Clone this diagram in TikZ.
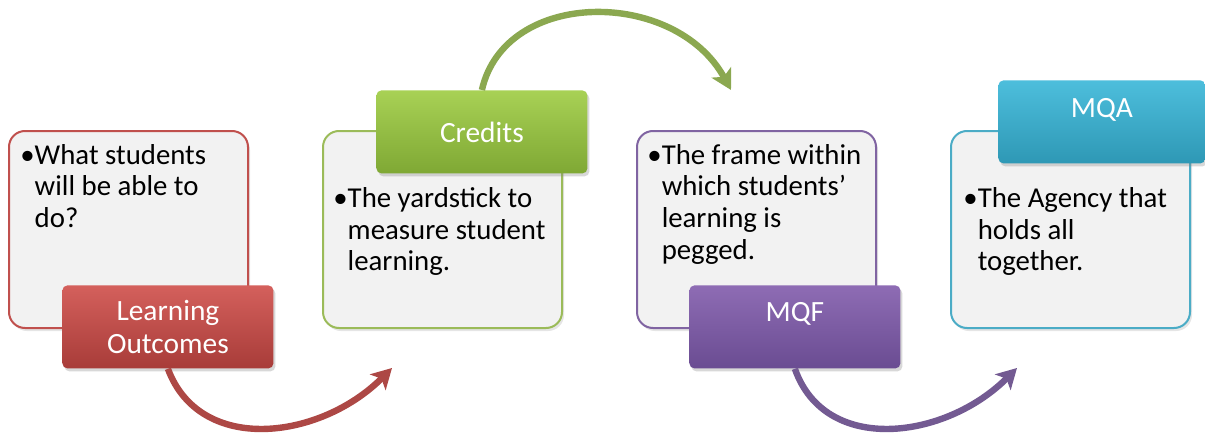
\documentclass[tikz,border=0pt]{standalone}
\usepackage{fontspec}
\setmainfont{Carlito}
\usetikzlibrary{arrows.meta,shadows}

\definecolor{boxgray}{HTML}{F2F2F2}
\definecolor{redline}{HTML}{C0504D}
\definecolor{redtop}{HTML}{D4605C}
\definecolor{redbot}{HTML}{A83C39}
\definecolor{greenline}{HTML}{9BBB59}
\definecolor{greentop}{HTML}{A8D155}
\definecolor{greenbot}{HTML}{7FA834}
\definecolor{purpleline}{HTML}{8064A2}
\definecolor{purpletop}{HTML}{8E6CB4}
\definecolor{purplebot}{HTML}{6A4C92}
\definecolor{tealline}{HTML}{4BACC6}
\definecolor{tealtop}{HTML}{4DBEDC}
\definecolor{tealbot}{HTML}{2E98B5}

\tikzset{
	box/.style={draw, line width=1pt, rounded corners=8pt, fill=boxgray, minimum width=119.5pt, minimum height=98.5pt, anchor=north west, inner sep=0pt, drop shadow={shadow xshift=1pt, shadow yshift=-1.5pt, opacity=0.2}},
	tag/.style={rounded corners=2.5pt, minimum width=105.5pt, minimum height=41.5pt, anchor=north west, inner sep=0pt, align=center, text=white, font=\fontsize{14.7}{16.5}\selectfont, drop shadow={shadow xshift=1pt, shadow yshift=-1.5pt, opacity=0.3}},
	note/.style={anchor=north west, inner sep=0pt, align=left, font=\fontsize{14.4}{15.8}\selectfont},
	flow/.style={line width=3.2pt, -{Stealth[length=10pt, width=11pt, inset=2.5pt]}}
}

\begin{document}
\begin{tikzpicture}[x=0.5pt, y=-0.5pt]

		\path[use as bounding box, fill=white] (0,0) rectangle (1205,439);

		\node[box, draw=redline] (b1) at (8,130) {};
		\node[box, draw=greenline] (b2) at (322,130) {};
		\node[box, draw=purpleline] (b3) at (636,130) {};
		\node[box, draw=tealline] (b4) at (950,130) {};

		\node[note] (t1) at (20,144) {•What students\\\hphantom{•}will be able to\\\hphantom{•}do?};
		\node[note] (t2) at (333,187) {•The yardstick to\\\hphantom{•}measure student\\\hphantom{•}learning.};
		\node[note] (t3) at (647,144) {•The frame within\\\hphantom{•}which students’\\\hphantom{•}learning is\\\hphantom{•}pegged.};
		\node[note] (t4) at (963,187) {•The Agency that\\\hphantom{•}holds all\\\hphantom{•}together.};

		\node[tag, top color=redtop, bottom color=redbot] (l1) at (62,285) {Learning\\Outcomes};
		\node[tag, top color=greentop, bottom color=greenbot] (l2) at (376,90) {Credits};
		\node[tag, top color=purpletop, bottom color=purplebot, text depth=15pt] (l3) at (689,285) {MQF};
		\node[tag, top color=tealtop, bottom color=tealbot, text depth=13.5pt, minimum width=103.5pt] (l4) at (998,80) {MQA};

		\coordinate (e1) at (392,368);
		\coordinate (e2) at (731,90);
		\coordinate (e3) at (1017,368);

		\draw[flow, redline!90!black] (l1.south) .. controls (200,455) and (320,440) .. (e1);
		\draw[flow, greenline!90!black] (l2.north) .. controls (505,-12) and (675,-12) .. (e2);
		\draw[flow, purpleline!90!black] (l3.south) .. controls (825,455) and (945,440) .. (e3);

	\end{tikzpicture}
\end{document}
